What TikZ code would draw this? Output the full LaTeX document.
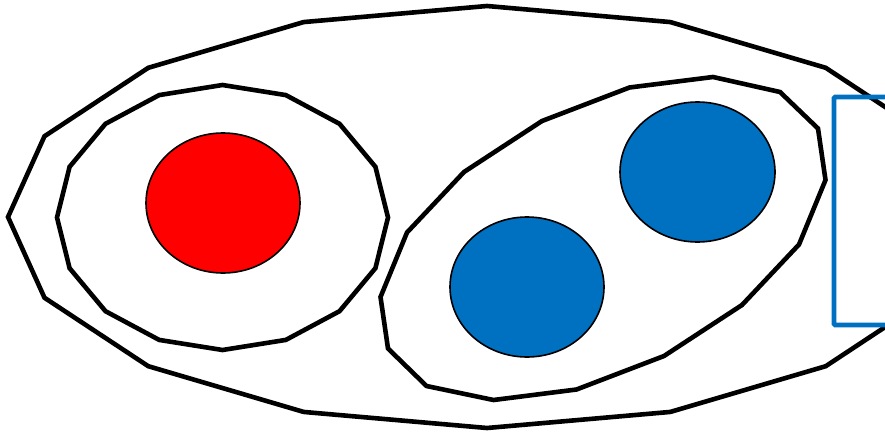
\documentclass[tikz,border=0pt]{standalone}
\definecolor{offblue}{HTML}{0070C0}
\definecolor{offred}{HTML}{FF0000}
\tikzset{
  setline/.style={draw=black,line width=4.6pt},
  elem/.style={draw=black,line width=1.6pt},
}
\begin{document}
\begin{tikzpicture}[x=1pt,y=-1pt]
\useasboundingbox (0,0) rectangle (885,433);
\fill[white] (0,0) rectangle (885,433);
\clip (0,0) rectangle (885,433);
% outer set
\draw[setline] plot[samples=17,domain=0:360] ({487+479*cos(\x)},{217+211*sin(\x)}) -- cycle;
% left subset
\draw[setline] plot[samples=17,domain=0:360] ({222.5+165.5*cos(\x)},{217.5+132.5*sin(\x)}) -- cycle;
% right tilted subset
\draw[setline] (713,77) -- (780,92) -- (818,128.5) -- (825.5,180) -- (799,244.5) -- (742,305) -- (664,356) -- (576.5,389.5)
  -- (493.5,400) -- (426.5,386) -- (388,348.5) -- (380.5,297) -- (407,232.5) -- (464,172) -- (542,121) -- (629.5,87.5) -- cycle;
% elements
\draw[elem,fill=offred] (223,203) ellipse [x radius=77, y radius=70];
\draw[elem,fill=offblue] (697.5,172) ellipse [x radius=77.5, y radius=70];
\draw[elem,fill=offblue] (527,287) ellipse [x radius=77, y radius=70];
% blue box at right edge
\draw[draw=offblue,line width=4.6pt,rounded corners=1pt] (834,97) rectangle (900,325);
\end{tikzpicture}
\end{document}
